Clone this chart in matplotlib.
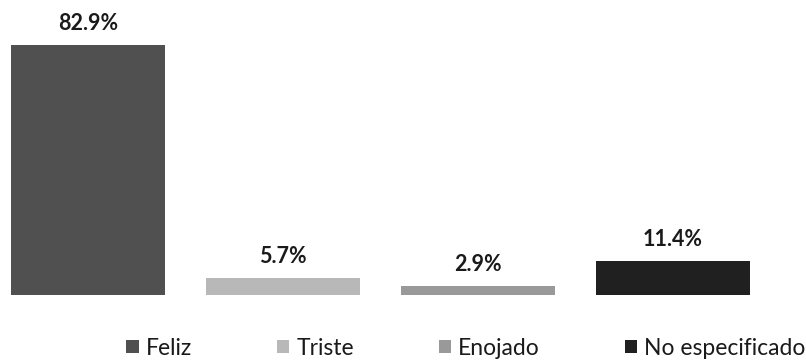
import matplotlib.pyplot as plt
from matplotlib.patches import Patch

# Emotion categories and their share of responses (%)
categories = ['Feliz', 'Triste', 'Enojado', 'No especificado']
percentages = [82.9, 5.7, 2.9, 11.4]
bar_colors = ['#505050', '#b8b8b8', '#999999', '#202020']

plt.rcParams['font.family'] = ['Lato', 'DejaVu Sans']


def main():
    fig = plt.figure(figsize=(8.06, 3.63), dpi=100)
    ax = fig.add_axes([0.0, 0.187, 0.968, 0.813])

    x = list(range(len(categories)))
    bars = ax.bar(x, percentages, width=0.79, color=bar_colors)

    for rect, val in zip(bars, percentages):
        ax.annotate(f'{val:.1f}%', (rect.get_x() + rect.get_width() / 2, rect.get_height()),
                    xytext=(0, 8), textcoords='offset points',
                    ha='center', va='bottom', fontsize=15.5, fontweight='bold',
                    color='#1a1a1a')

    ax.set_xlim(-0.45, 3.55)
    ax.set_ylim(0, 97.8)
    ax.axis('off')

    handles = [Patch(facecolor=c, edgecolor='none') for c in bar_colors]
    fig.legend(handles, categories, loc='center', bbox_to_anchor=(0.578, 0.041),
               ncol=4, frameon=False, fontsize=16.5, handlelength=0.55, handleheight=0.55,
               handletextpad=0.3, columnspacing=3.7, labelcolor='#1a1a1a',
               borderpad=0.2, borderaxespad=0)

    fig.savefig('out.png', dpi=100)


if __name__ == "__main__":
    main()
